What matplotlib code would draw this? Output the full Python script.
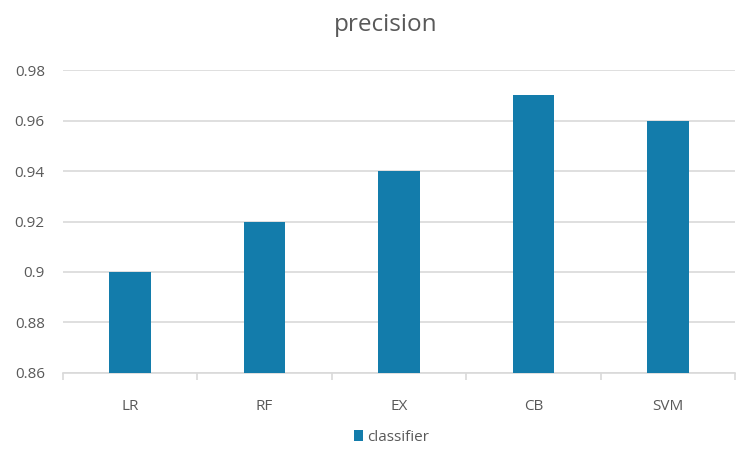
import matplotlib.pyplot as plt
import numpy as np

# data
classifiers = ["LR", "RF", "EX", "CB", "SVM"]
precision = [0.90, 0.92, 0.94, 0.97, 0.96]
yticks = [0.86, 0.88, 0.90, 0.92, 0.94, 0.96, 0.98]
ytick_labels = ["0.86", "0.88", "0.9", "0.92", "0.94", "0.96", "0.98"]

plt.rcParams['font.family'] = ['Open Sans', 'DejaVu Sans']

fig = plt.figure(figsize=(7.39, 4.53), dpi=100)
ax = fig.add_axes([0.085, 0.177, 0.91, 0.668])

x = np.arange(len(classifiers))
ax.bar(x, precision, width=0.31, color="#137cab", label="classifier", zorder=3)

ax.set_ylim(0.86, 0.98)
ax.set_xlim(-0.5, len(classifiers) - 0.5)
ax.set_yticks(yticks)
ax.set_yticklabels(ytick_labels)
ax.set_xticks(x)
ax.set_xticklabels(classifiers)
ax.set_xticks(np.arange(len(classifiers) + 1) - 0.5, minor=True)

ax.grid(axis="y", color="#d9d9d9", linewidth=1.2, zorder=0)
for s in ["top", "right", "left"]:
    ax.spines[s].set_visible(False)
ax.spines["bottom"].set_color("#d9d9d9")
ax.spines["bottom"].set_linewidth(1.2)

ax.tick_params(axis="y", length=0, pad=13, labelsize=11, labelcolor="#595959")
ax.tick_params(axis="x", which="major", length=0, pad=19, labelsize=11, labelcolor="#595959")
ax.tick_params(axis="x", which="minor", length=5, color="#d9d9d9", width=1.2)

fig.suptitle("precision", x=0.522, y=0.972, fontsize=17.5, color="#595959")

leg = fig.legend(loc="lower center", bbox_to_anchor=(0.53, -0.012), frameon=False,
                 fontsize=11, handlelength=0.6, handleheight=0.8, handletextpad=0.3)
for t in leg.get_texts():
    t.set_color("#595959")

plt.savefig("out.png", dpi=100)
